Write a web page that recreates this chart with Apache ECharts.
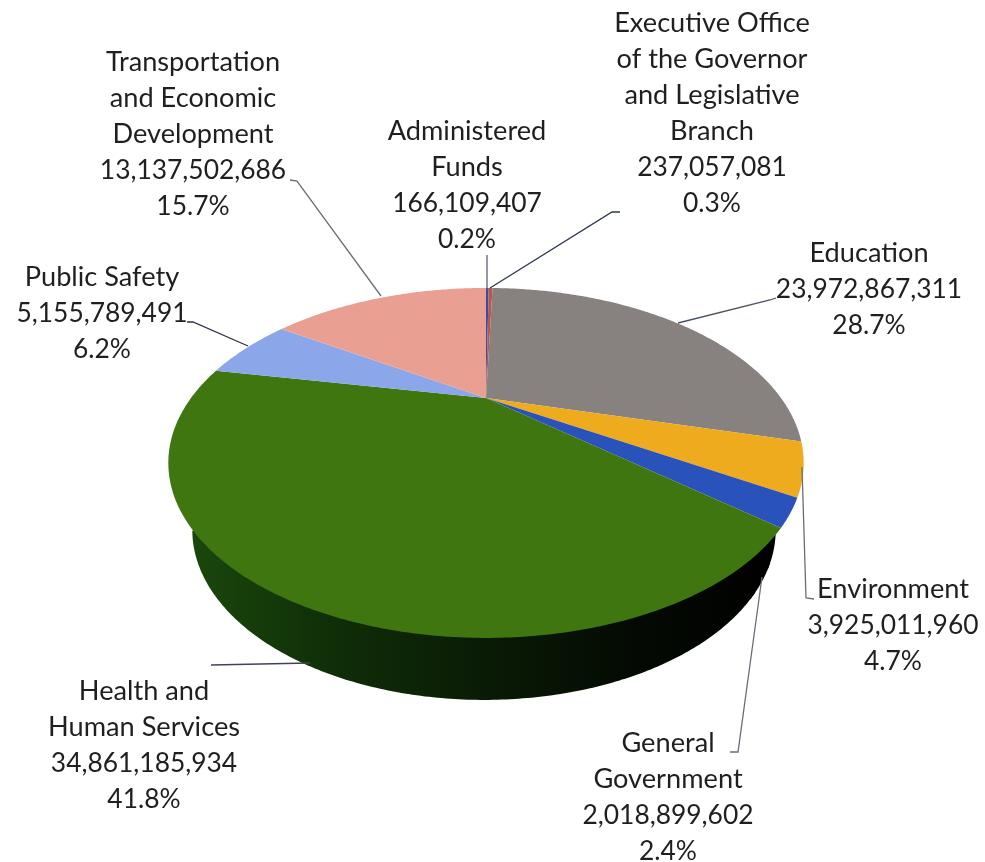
<!DOCTYPE html>
<html>
<head>
<meta charset="utf-8">
<script src="https://cdn.jsdelivr.net/npm/echarts@6/dist/echarts.min.js"></script>
<style>html,body{margin:0;padding:0;background:#fff}#c{width:985px;height:862px}</style>
</head>
<body>
<div id="c"></div>
<script>
var names = ["Administered\nFunds", "Executive Office\nof the Governor\nand Legislative\nBranch", "Education", "Environment", "General\nGovernment", "Health and\nHuman Services", "Public Safety", "Transportation\nand Economic\nDevelopment"];
var values = [166109407, 237057081, 23972867311, 3925011960, 2018899602, 34861185934, 5155789491, 13137502686];
var percents = ["0.2%", "0.3%", "28.7%", "4.7%", "2.4%", "41.8%", "6.2%", "15.7%"];

var topColors = ["#2b4fb5", "#c2553f", "#87817f", "#eeab1e", "#2a52bb", "#3f7610", "#8ba7ea", "#e9a092"];
var labelCenters = [[467,185],[712,113],[869,289],[893,625],[668,797],[144,745],[102,313],[193,134]];
var leaders = [
  [[487,255],[487,290]],
  [[620,212],[612,212],[490,288]],
  [[776,298],[770,300],[678,323]],
  [[802,467],[806,598],[814,599]],
  [[762,577],[738,752],[730,752]],
  [[211,665],[310,663]],
  [[187,322],[193,322],[248,346]],
  [[290,180],[297,181],[381,296]]
];
var leaderColors = ["#5a6274", "#2c3850", "#4a5264", "#6a6e78", "#6a6e78", "#3c4458", "#2c3448", "#6a6e78"];

// perspective projection of the pie's unit disc onto the page
var CX = 486, CY = 398, Q = 295, P = 150.9, C = -0.371;
function proj(angle, r) {
  var u = Math.sin(angle) * r, v = -Math.cos(angle) * r, d = 1 + C * v;
  return [CX + Q * u / d, CY + P * v / d];
}
// lower rim: affine copy of the upper rim ellipse
function lower(p) {
  return [484 + (p[0] - 486) * 292 / 318, 530 + (p[1] - 463) * 170 / 175];
}

var total = values.reduce(function (a, b) { return a + b; }, 0);
var starts = [], acc = 0;
values.forEach(function (v) { starts.push(acc); acc += v; });

var chart = echarts.init(document.getElementById('c'), null, { renderer: 'canvas' });
var wallGreen = new echarts.graphic.LinearGradient(192, 0, 780, 0, [
  { offset: 0, color: '#1a470c' },
  { offset: 0.25, color: '#0f2d08' },
  { offset: 0.5, color: '#0a1b05' },
  { offset: 0.75, color: '#040a03' },
  { offset: 1, color: '#000000' }
], true);

function richText(name, val, pct) {
  return name.split('\n').map(function (s) { return '{n|' + s + '}'; }).join('\n') +
    '\n{v|' + val.toLocaleString('en-US') + '}\n{v|' + pct + '}';
}

chart.setOption({
  backgroundColor: '#ffffff',
  animation: false,
  series: [{
    type: 'custom',
    coordinateSystem: 'none',
    silent: true,
    data: values.map(function (v) { return [v]; }),
    renderItem: function (params, api) {
      var i = params.dataIndex, val = api.value(0);
      var a0 = starts[i] / total * 2 * Math.PI, a1 = (starts[i] + val) / total * 2 * Math.PI;
      var n = Math.max(2, Math.ceil((a1 - a0) / 0.01)), rim = [], wallRim = [];
      for (var k = 0; k <= n; k++) rim.push(proj(a0 + (a1 - a0) * k / n, 1));
      // the wall overlaps the next slice a little so no seam shows
      for (var m = 0; m <= n + 3; m++) wallRim.push(proj(a0 + (a1 - a0) * m / n, 1));
      var top = [[CX, CY]].concat(rim);
      var c = labelCenters[i];
      var children = [];
      // side wall: fan of the lower rim, its upper part hidden under the top face
      var front = wallRim.filter(function (p) { return p[1] >= 463; });
      if (front.length > 1) {
        var low = front.map(lower);
        children.push({ type: 'polygon', z2: 1, shape: { points: [[CX, 480]].concat(low) }, style: { fill: wallGreen } });
      }
      children.push({ type: 'polygon', z2: 2, shape: { points: top }, style: { fill: topColors[i] } });
      children.push({ type: 'polyline', z2: 3, shape: { points: leaders[i] }, style: { fill: null, stroke: leaderColors[i], lineWidth: 1.3 } });
      children.push({ type: 'text', z2: 4, style: {
        x: c[0], y: c[1], align: 'center', verticalAlign: 'middle',
        text: richText(names[i], val, percents[i]),
        fill: '#1f1f1f',
        rich: {
          n: { fontFamily: 'Lato', fontSize: 27.2, lineHeight: 36, fill: '#1f1f1f' },
          v: { fontFamily: 'Lato', fontSize: 26.4, lineHeight: 36, fill: '#1f1f1f' }
        }
      } });
      return { type: 'group', children: children };
    }
  }]
});
</script>
</body>
</html>
